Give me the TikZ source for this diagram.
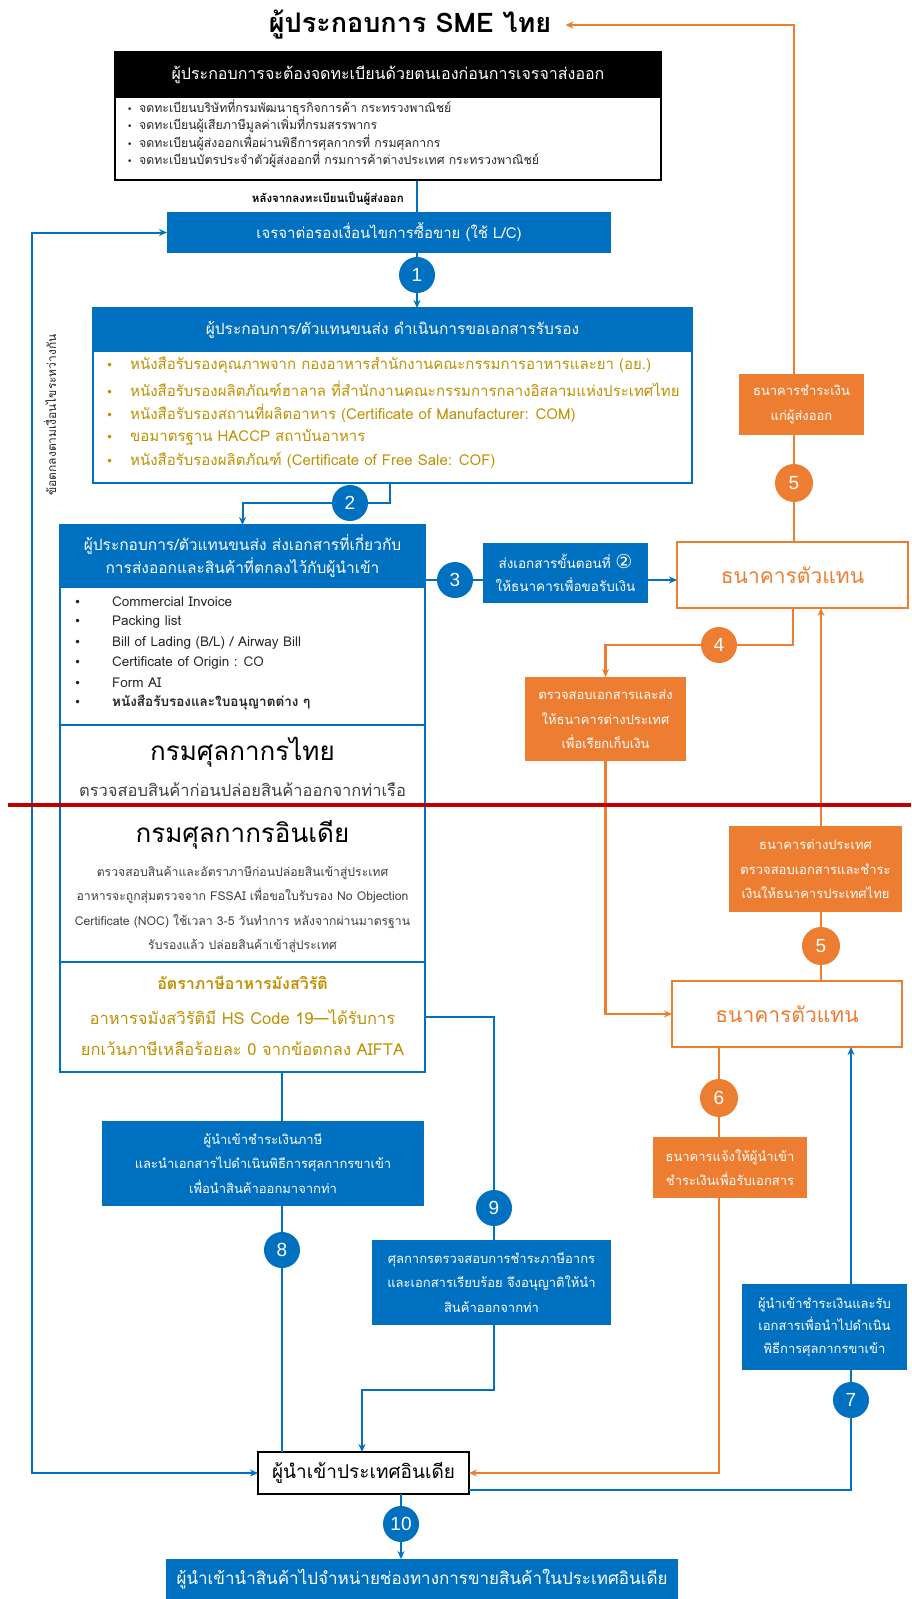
\documentclass[tikz,border=0pt]{standalone}
\usepackage{fontspec}
\setmainfont{Loma}[Script=Thai]
\newfontfamily\numf{Liberation Sans}
\newfontfamily\symf{DejaVu Sans}
\usetikzlibrary{arrows.meta}
\definecolor{cblue}{HTML}{0070C0}
\definecolor{corange}{HTML}{ED7D31}
\definecolor{cgold}{HTML}{BF9000}
\definecolor{cred}{HTML}{C00000}
\definecolor{cgray}{HTML}{404040}
\newcommand\fsz[2]{\fontsize{#1}{#2}\selectfont}
\newcommand\dotb{\symf\fsz{9}{9}•}
\newcommand\dotc{\symf\fsz{12}{12}•}

\begin{document}
\begin{tikzpicture}[x=1pt,y=-1pt,
  bline/.style={draw=cblue, line width=2pt},
  barrow/.style={bline, -{Stealth[length=8pt,width=7pt]}},
  barrows/.style={bline, {Stealth[length=8pt,width=7pt]}-{Stealth[length=8pt,width=7pt]}},
  oline/.style={draw=corange, line width=2.2pt},
  oarrow/.style={oline, -{Stealth[length=8pt,width=7pt]}},
  num/.style={circle, fill=#1, text=white, minimum size=36pt, inner sep=0pt, font=\numf\fsz{19}{19}},
  fillbox/.style={fill=#1, text=white, inner sep=0pt, outer sep=0pt, align=center},
  framebox/.style={draw=#1, line width=2pt, fill=white, inner sep=0pt, outer sep=0pt, align=center},
  item/.style={anchor=west, inner sep=0pt},
  sidetext/.style={font=\fsz{13}{24.5}},
]
\useasboundingbox (0,0) rectangle (911,1599);
\fill[white] (0,0) rectangle (911,1599);

% ---------- exporter side ----------
\node[font=\bfseries\fsz{27}{31}, inner xsep=14pt, inner ysep=2pt] (title) at (410,25) {ผู้ประกอบการ SME ไทย};

\node[draw=black, line width=1.5pt, minimum width=546pt, minimum height=128pt, inner sep=0pt] (reg) at (388,116) {};
\node[fill=black, text=white, minimum width=546pt, minimum height=46pt, inner sep=0pt, font=\fsz{16}{18}] (reghead) at (388,75) {ผู้ประกอบการจะต้องจดทะเบียนด้วยตนเองก่อนการเจรจาส่งออก};
\begin{scope}[every node/.style={item, font=\fsz{12.3}{13}, text=black!85}]
  \node (r1) at (127,108) {\makebox[12pt][l]{\dotb}จดทะเบียนบริษัทที่กรมพัฒนาธุรกิจการค้า กระทรวงพาณิชย์};
  \node (r2) at (127,125) {\makebox[12pt][l]{\dotb}จดทะเบียนผู้เสียภาษีมูลค่าเพิ่มที่กรมสรรพากร};
  \node (r3) at (127,143) {\makebox[12pt][l]{\dotb}จดทะเบียนผู้ส่งออกเพื่อผ่านพิธีการศุลกากรที่ กรมศุลกากร};
  \node (r4) at (127,160) {\makebox[12pt][l]{\dotb}จดทะเบียนบัตรประจำตัวผู้ส่งออกที่ กรมการค้าต่างประเทศ กระทรวงพาณิชย์};
\end{scope}

\node[anchor=east, inner sep=0pt, font=\bfseries\fsz{11.5}{13}] (after) at (404,199) {หลังจากลงทะเบียนเป็นผู้ส่งออก};

\node[fillbox=cblue, minimum width=444pt, minimum height=41pt, font=\fsz{15}{18}] (lc) at (389,232.5) {เจรจาต่อรองเงื่อนไขการซื้อขาย (ใช้ L/C)};
\node[num=cblue] (c1) at (417,275) {1};

% certificates
\node[framebox=cblue, minimum width=599pt, minimum height=175pt] (cert) at (392.5,395.5) {};
\node[fillbox=cblue, minimum width=599pt, minimum height=44pt, font=\fsz{15.5}{18}] (certhead) at (392.5,330) {ผู้ประกอบการ/ตัวแทนขนส่ง ดำเนินการขอเอกสารรับรอง};
\begin{scope}[every node/.style={item, font=\fsz{15}{18}, text=cgold}]
  \node (g1) at (106,365) {\makebox[24pt][l]{\dotc}หนังสือรับรองคุณภาพจาก กองอาหารสำนักงานคณะกรรมการอาหารและยา (อย.)};
  \node (g2) at (106,389) {\makebox[24pt][l]{\dotc}หนังสือรับรองผลิตภัณฑ์ฮาลาล ที่สำนักงานคณะกรรมการกลางอิสลามแห่งประเทศไทย};
  \node (g3) at (106,413) {\makebox[24pt][l]{\dotc}หนังสือรับรองสถานที่ผลิตอาหาร (Certificate of Manufacturer: COM)};
  \node (g4) at (106,437) {\makebox[24pt][l]{\dotc}ขอมาตรฐาน HACCP สถาบันอาหาร};
  \node (g5) at (106,460) {\makebox[24pt][l]{\dotc}หนังสือรับรองผลิตภัณฑ์ (Certificate of Free Sale: COF)};
\end{scope}
\node[num=cblue] (c2) at (350,503) {2};
\coordinate (k2) at (390,503);

% documents and customs
\node[framebox=cblue, minimum width=365pt, minimum height=547pt] (doc) at (242.5,798.5) {};
\node[fillbox=cblue, minimum width=365pt, minimum height=63pt, font=\fsz{15.5}{23}] (dochead) at (242.5,556.5) {ผู้ประกอบการ/ตัวแทนขนส่ง ส่งเอกสารที่เกี่ยวกับ\\การส่งออกและสินค้าที่ตกลงไว้กับผู้นำเข้า};
\begin{scope}[every node/.style={item, font=\fsz{13.5}{15}, text=black!85}]
  \node (d1) at (74,602) {\makebox[38pt][l]{\dotc}Commercial Invoice};
  \node (d2) at (74,622) {\makebox[38pt][l]{\dotc}Packing list};
  \node (d3) at (74,643) {\makebox[38pt][l]{\dotc}Bill of Lading (B/L) / Airway Bill};
  \node (d4) at (74,663) {\makebox[38pt][l]{\dotc}Certificate of Origin : CO};
  \node (d5) at (74,683) {\makebox[38pt][l]{\dotc}Form AI};
  \node (d6) at (74,703) {\makebox[38pt][l]{\dotc}\bfseries หนังสือรับรองและใบอนุญาตต่าง ๆ};
\end{scope}
\coordinate (sepA) at (0,725);
\coordinate (sepB) at (0,962);
\draw[bline] (doc.west |- sepA) -- (doc.east |- sepA);
\draw[bline] (doc.west |- sepB) -- (doc.east |- sepB);
\node[font=\fsz{26}{30}] (thcus) at (242.5,752) {กรมศุลกากรไทย};
\node[font=\fsz{16.5}{18}, text=cgray] (thcheck) at (242.5,790) {ตรวจสอบสินค้าก่อนปล่อยสินค้าออกจากท่าเรือ};
\node[font=\fsz{26}{30}] (incus) at (242.5,835) {กรมศุลกากรอินเดีย};
\node[font=\fsz{12.2}{24.3}, text=cgray, align=center] (incheck) at (242.5,909.5) {ตรวจสอบสินค้าและอัตราภาษีก่อนปล่อยสินเข้าสู่ประเทศ\\อาหารจะถูกสุ่มตรวจจาก FSSAI เพื่อขอใบรับรอง No Objection\\Certificate (NOC) ใช้เวลา 3-5 วันทำการ หลังจากผ่านมาตรฐาน\\รับรองแล้ว ปล่อยสินค้าเข้าสู่ประเทศ};
\node[font=\bfseries\fsz{16}{18}, text=cgold] (veghead) at (242.5,983) {อัตราภาษีอาหารมังสวิรัติ};
\node[font=\fsz{16.5}{31}, text=cgold, align=center] (vegtext) at (242.5,1032.5) {อาหารจมังสวิรัติมี HS Code 19—ได้รับการ\\ยกเว้นภาษีเหลือร้อยละ 0 จากข้อตกลง AIFTA};

\node[num=cblue] (c3) at (455,580) {3};
\node[fillbox=cblue, minimum width=165pt, minimum height=60pt, font=\fsz{13.5}{23}] (send) at (565.5,573) {ส่งเอกสารขั้นตอนที่ {\symf\fsz{19}{19}②}\\ให้ธนาคารเพื่อขอรับเงิน};

% ---------- banks ----------
\node[framebox=corange, line width=2.2pt, minimum width=231pt, minimum height=66pt, text=corange, font=\fsz{21}{26}] (bank1) at (792.5,575) {ธนาคารตัวแทน};
\node[fillbox=corange, minimum width=125pt, minimum height=61pt, sidetext] (pay) at (801.5,404.5) {ธนาคารชำระเงิน\\แก่ผู้ส่งออก};
\node[num=corange, minimum size=38pt] (c5a) at (794,483) {5};
\node[num=corange] (c4) at (719,645) {4};
\coordinate (k4) at (793,645);
\node[fillbox=corange, minimum width=161pt, minimum height=84pt, sidetext] (check) at (605.5,719) {ตรวจสอบเอกสารและส่ง\\ให้ธนาคารต่างประเทศ\\เพื่อเรียกเก็บเงิน};
\node[framebox=corange, line width=2.2pt, minimum width=230pt, minimum height=66pt, text=corange, font=\fsz{21}{26}] (bank2) at (787,1014) {ธนาคารตัวแทน};
\node[fillbox=corange, minimum width=173pt, minimum height=86pt, sidetext] (foreign) at (815.5,869) {ธนาคารต่างประเทศ\\ตรวจสอบเอกสารและชำระ\\เงินให้ธนาคารประเทศไทย};
\node[num=corange, minimum size=38pt] (c5b) at (821,946) {5};
\node[num=corange, minimum size=38pt] (c6) at (719,1098) {6};
\node[fillbox=corange, minimum width=154pt, minimum height=61pt, sidetext] (notify) at (730,1167.5) {ธนาคารแจ้งให้ผู้นำเข้า\\ชำระเงินเพื่อรับเอกสาร};
\node[fillbox=cblue, minimum width=165pt, minimum height=86pt, font=\fsz{13}{22.5}] (payimp) at (824.5,1327) {ผู้นำเข้าชำระเงินและรับ\\เอกสารเพื่อนำไปดำเนิน\\พิธีการศุลกากรขาเข้า};
\node[num=cblue] (c7) at (851,1400) {7};

% ---------- importer side ----------
\node[fillbox=cblue, minimum width=322pt, minimum height=85pt, sidetext] (box8) at (263,1163.5) {ผู้นำเข้าชำระเงินภาษี\\และนำเอกสารไปดำเนินพิธีการศุลกากรขาเข้า\\เพื่อนำสินค้าออกมาจากท่า};
\node[num=cblue] (c8) at (282,1250) {8};
\node[num=cblue] (c9) at (494,1208) {9};
\coordinate (v9) at (494,1017);
\node[fillbox=cblue, minimum width=239pt, minimum height=85pt, sidetext] (box9) at (491.5,1282.5) {ศุลกากรตรวจสอบการชำระภาษีอากร\\และเอกสารเรียบร้อย จึงอนุญาติให้นำ\\สินค้าออกจากท่า};
\coordinate (k9) at (362,1390);
\node[draw=black, line width=2pt, fill=white, minimum width=211pt, minimum height=42pt, inner sep=0pt, outer sep=0pt, font=\fsz{19}{22}] (imp) at (363.5,1473) {ผู้นำเข้าประเทศอินเดีย};
\coordinate (impout) at (469,1490);
\node[num=cblue] (c10) at (401,1524) {10};
\node[fillbox=cblue, minimum width=512pt, minimum height=40pt, font=\fsz{17}{20}] (final) at (422,1579) {ผู้นำเข้านำสินค้าไปจำหน่ายช่องทางการขายสินค้าในประเทศอินเดีย};

\coordinate (loopc) at (32,800);
\node[rotate=90, inner sep=0pt, font=\fsz{12}{14}, text=black!85] (loopnote) at (50,415) {ข้อตกลงตามเงื่อนไขระหว่างกัน};

% ---------- connectors ----------
\draw[bline] (c1 |- reg.south) -- (c1 |- lc.north);
\draw[bline] (c1 |- lc.south) -- (c1);
\draw[barrow] (c1) -- (c1 |- cert.north);
\draw[bline] (k2 |- cert.south) -- (k2) -- (c2);
\draw[barrow] (c2) -| (doc.north);
\draw[bline] (doc.east |- c3) -- (c3) -- (send.west |- c3);
\draw[barrow] (send.east |- c3) -- (bank1.west |- c3);
\draw[oline] (bank1.north -| c5a) -- (c5a) -- (c5a |- pay.south);
\draw[oarrow] (c5a |- pay.north) |- (title.east);
\draw[oline] (k4 |- bank1.south) -- (k4) -- (c4);
\draw[oarrow] (c4) -| (check.north);
\draw[oarrow] (check.south) |- (bank2.west);
\draw[oline] (c5b |- bank2.north) -- (c5b) -- (c5b |- foreign.south);
\draw[oarrow] (c5b |- foreign.north) -- (c5b |- bank1.south);
\draw[oline] (c6 |- bank2.south) -- (c6) -- (c6 |- notify.north);
\draw[oarrow] (c6 |- notify.south) |- (imp.east);
\draw[bline] (impout) -| (c7);
\draw[bline] (c7) -- (c7 |- payimp.south);
\draw[barrow] (c7 |- payimp.north) -- (c7 |- bank2.south);
\draw[bline] (c8 |- doc.south) -- (c8 |- box8.north);
\draw[bline] (c8 |- box8.south) -- (c8) -- (c8 |- imp.north);
\draw[bline] (v9 -| doc.east) -- (v9) -- (c9);
\draw[bline] (c9) -- (c9 |- box9.north);
\draw[barrow] (c9 |- box9.south) |- (k9) -- (k9 |- imp.north);
\draw[bline] (c10 |- imp.south) -- (c10);
\draw[barrow] (c10) -- (c10 |- final.north);
\draw[barrows] (lc.west) -| (loopc) |- (imp.west);

% border between the two countries
\draw[cred, line width=4pt] (8,805) -- (911,805);
\end{tikzpicture}
\end{document}
